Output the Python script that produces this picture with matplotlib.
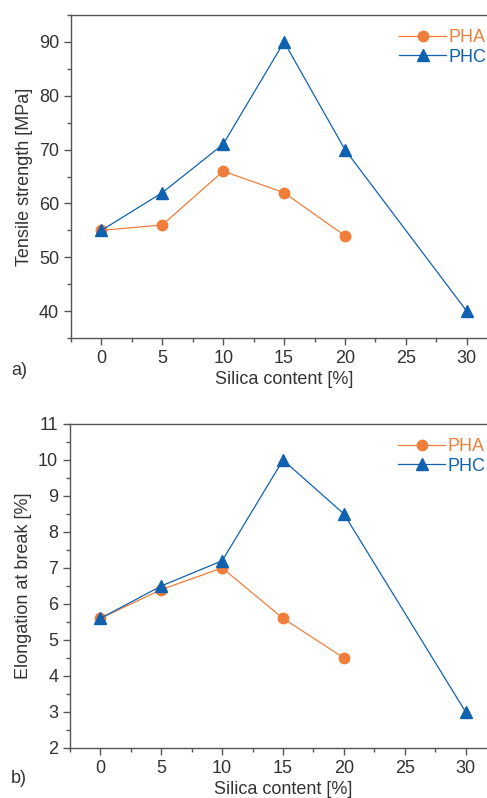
import numpy as np
import matplotlib.pyplot as plt
from matplotlib.ticker import MultipleLocator

plt.rcParams['font.family'] = ['Liberation Sans', 'DejaVu Sans']

# ---- data ----
x_pha = [0, 5, 10, 15, 20]
x_phc = [0, 5, 10, 15, 20, 30]

tensile_pha = [55, 56, 66, 62, 54]
tensile_phc = [55, 62, 71, 90, 70, 40]

elong_pha = [5.6, 6.4, 7.0, 5.6, 4.5]
elong_phc = [5.6, 6.5, 7.2, 10.0, 8.5, 3.0]

c_pha = '#F07E3A'
c_phc = '#1062B0'
txt = '#333333'
spine = '#555555'
fs = 13

fig = plt.figure(figsize=(4.87, 7.98), dpi=100)

ax1 = fig.add_axes([0.1458, 0.5764, 0.875, 0.4048])
ax2 = fig.add_axes([0.1437, 0.0627, 0.875, 0.4060])


def style(ax, ylabel, letter, ly):
    ax.set_xlim(-2.5, 32.5)
    ax.xaxis.set_major_locator(MultipleLocator(5))
    ax.xaxis.set_minor_locator(MultipleLocator(2.5))
    for s in ax.spines.values():
        s.set_color(spine)
        s.set_linewidth(1.0)
    ax.tick_params(which='both', direction='out', colors=spine, labelcolor=txt,
                   labelsize=fs, width=1.0)
    ax.tick_params(which='major', length=5)
    ax.tick_params(which='minor', length=3)
    ax.set_ylabel(ylabel, fontsize=fs, color=txt, labelpad=4)
    ax.set_xlabel('Silica content [%]', fontsize=fs, color=txt, labelpad=3)
    ax.text(-0.14, ly, letter, transform=ax.transAxes, fontsize=fs,
            color=txt, ha='left', va='center')
    leg = ax.legend(loc='upper left', bbox_to_anchor=(0.745, 0.99), frameon=False,
                    fontsize=fs, handlelength=2.6, handletextpad=0.15,
                    labelspacing=0.15, borderaxespad=0.2)
    for t, c in zip(leg.get_texts(), [c_pha, c_phc]):
        t.set_color(c)


ax1.plot(x_pha, tensile_pha, color=c_pha, marker='o', ms=7.5, lw=0.9, label='PHA')
ax1.plot(x_phc, tensile_phc, color=c_phc, marker='^', ms=8.5, lw=0.9, label='PHC')
ax1.set_ylim(35, 95)
ax1.yaxis.set_minor_locator(MultipleLocator(5))
ax1.set_yticks([40, 50, 60, 70, 80, 90])
style(ax1, 'Tensile strength [MPa]', 'a)', -0.1)

ax2.plot(x_pha, elong_pha, color=c_pha, marker='o', ms=7.5, lw=0.9, label='PHA')
ax2.plot(x_phc, elong_phc, color=c_phc, marker='^', ms=8.5, lw=0.9, label='PHC')
ax2.set_ylim(2, 11)
ax2.yaxis.set_major_locator(MultipleLocator(1))
ax2.yaxis.set_minor_locator(MultipleLocator(0.5))
style(ax2, 'Elongation at break [%]', 'b)', -0.093)

fig.savefig('out.png', dpi=100)
